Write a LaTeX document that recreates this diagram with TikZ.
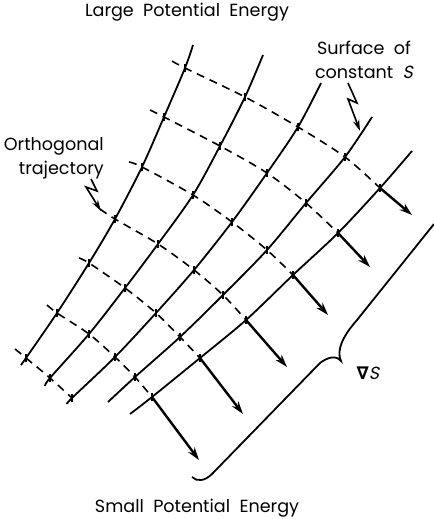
\documentclass[tikz,border=0pt]{standalone}
\usepackage{fontspec}
\setmainfont[WordSpace=2]{Poppins}
\newfontfamily\slantfont[FakeSlant=0.2]{Poppins}
\newfontfamily\symfont{DejaVu Sans}
\usetikzlibrary{arrows.meta,calc}

\begin{document}
\begin{tikzpicture}[
  x=0.25mm, y=-0.25mm,
  every node/.style={font=\fontsize{12.5}{15}\selectfont, align=center, inner sep=0pt},
  surface/.style={line width=0.45mm},
  traj/.style={line width=0.4mm, dash pattern=on 2mm off 1.5mm},
  crosstick/.style={line width=0.45mm},
  gradarrow/.style={line width=0.6mm, -{Stealth[length=3.2mm,width=2mm]}},
  pointer/.style={line width=0.4mm, -{Stealth[length=2.8mm,width=1.6mm]}}
]
\useasboundingbox (0,0) rectangle (434,519);

% orthogonal trajectories: start (0), crossings (1..5), arrow end (6)
\coordinate (t1-0) at (172,61);  \coordinate (t1-1) at (185,68);  \coordinate (t1-2) at (245,97);
\coordinate (t1-3) at (298,127); \coordinate (t1-4) at (345,157); \coordinate (t1-5) at (380,188);
\coordinate (t1-6) at (412,215);
\coordinate (t2-0) at (150,110); \coordinate (t2-1) at (164,117); \coordinate (t2-2) at (220,146);
\coordinate (t2-3) at (267,173); \coordinate (t2-4) at (306,203); \coordinate (t2-5) at (338,233);
\coordinate (t2-6) at (370,267);
\coordinate (t3-0) at (129,162); \coordinate (t3-1) at (142,167); \coordinate (t3-2) at (193,195);
\coordinate (t3-3) at (232,222); \coordinate (t3-4) at (267,250); \coordinate (t3-5) at (293,275);
\coordinate (t3-6) at (328,315);
\coordinate (t4-0) at (100,209); \coordinate (t4-1) at (115,219); \coordinate (t4-2) at (158,244);
\coordinate (t4-3) at (194,270); \coordinate (t4-4) at (223,295); \coordinate (t4-5) at (246,320);
\coordinate (t4-6) at (287,367);
\coordinate (t5-0) at (79,258);  \coordinate (t5-1) at (89,263);  \coordinate (t5-2) at (125,288);
\coordinate (t5-3) at (156,313); \coordinate (t5-4) at (180,337); \coordinate (t5-5) at (200,358);
\coordinate (t5-6) at (243,414);
\coordinate (t6-0) at (47,305);  \coordinate (t6-1) at (57,313);  \coordinate (t6-2) at (89,334);
\coordinate (t6-3) at (115,357); \coordinate (t6-4) at (135,377); \coordinate (t6-5) at (152,397);
\coordinate (t6-6) at (199,460);
\coordinate (t7-0) at (15,349);  \coordinate (t7-1) at (26,358);  \coordinate (t7-2) at (50,378);
\coordinate (t7-3) at (72,398);

% ends of the surfaces of constant S
\coordinate (s1-top) at (193,45);  \coordinate (s1-bot) at (21,365);
\coordinate (s2-top) at (263,55);  \coordinate (s2-bot) at (45,386);
\coordinate (s3-top) at (321,83);  \coordinate (s3-bot) at (67,404);
\coordinate (s4-top) at (372,117); \coordinate (s4-bot) at (108,402);
\coordinate (s5-top) at (412,151); \coordinate (s5-bot) at (130,414);

% surfaces
\draw[surface] plot[smooth] coordinates {(s1-top) (t1-1) (t2-1) (t3-1) (t4-1) (t5-1) (t6-1) (t7-1) (s1-bot)};
\draw[surface] plot[smooth] coordinates {(s2-top) (t1-2) (t2-2) (t3-2) (t4-2) (t5-2) (t6-2) (t7-2) (s2-bot)};
\draw[surface] plot[smooth] coordinates {(s3-top) (t1-3) (t2-3) (t3-3) (t4-3) (t5-3) (t6-3) (t7-3) (s3-bot)};
\draw[surface] plot[smooth] coordinates {(s4-top) (t1-4) (t2-4) (t3-4) (t4-4) (t5-4) (t6-4) (s4-bot)};
\draw[surface] plot[smooth] coordinates {(s5-top) (t1-5) (t2-5) (t3-5) (t4-5) (t5-5) (t6-5) (s5-bot)};

% trajectories, dashed
\draw[traj] plot[smooth] coordinates {(t1-0) (t1-1) (t1-2) (t1-3) (t1-4) (t1-5)};
\draw[traj] plot[smooth] coordinates {(t2-0) (t2-1) (t2-2) (t2-3) (t2-4) (t2-5)};
\draw[traj] plot[smooth] coordinates {(t3-0) (t3-1) (t3-2) (t3-3) (t3-4) (t3-5)};
\draw[traj] plot[smooth] coordinates {(t4-0) (t4-1) (t4-2) (t4-3) (t4-4) (t4-5)};
\draw[traj] plot[smooth] coordinates {(t5-0) (t5-1) (t5-2) (t5-3) (t5-4) (t5-5)};
\draw[traj] plot[smooth] coordinates {(t6-0) (t6-1) (t6-2) (t6-3) (t6-4) (t6-5)};
\draw[traj] plot[smooth] coordinates {(t7-0) (t7-1) (t7-2) (t7-3)};

% crossing ticks
\foreach \i/\n in {1/5,2/5,3/5,4/5,5/5,6/5,7/3}
  \foreach \j [evaluate=\j as \p using int(\j-1)] in {1,...,\n}
    \draw[crosstick] ($(t\i-\j)!-1.1mm!(t\i-\p)$) -- ($(t\i-\j)!1.1mm!(t\i-\p)$);

% gradient arrows
\draw[gradarrow] (t1-5) -- (t1-6);
\draw[gradarrow] (t2-5) -- (t2-6);
\draw[gradarrow] (t3-5) -- (t3-6);
\draw[gradarrow] (t4-5) -- (t4-6);
\draw[gradarrow] (t5-5) -- (t5-6);
\draw[gradarrow] (t6-5) -- (t6-6);

% brace
\coordinate (brace-top) at (434,224);
\coordinate (brace-up) at (357,320);
\coordinate (brace-tip) at (341,361);
\coordinate (brace-low) at (320,363);
\coordinate (brace-bot) at (212,474);
\coordinate (brace-end) at (192,477);
\draw[surface] (brace-top) -- (brace-up)
  .. controls (343,336) and (336,350) .. (brace-tip)
  .. controls (336,355) and (328,357) .. (brace-low) -- (brace-bot)
  .. controls (205,481) and (197,482) .. (brace-end);

% labels
\node (large) at (187,12) {Large Potential Energy};
\node (small) at (197,508) {Small Potential Energy};
\node (surflabel) at (364,60) {Surface of\\[2pt]constant {\slantfont S}};
\node[anchor=east, align=right] (orthlabel) at (104,158) {Orthogonal\\[2pt]trajectory};
\node (gradlabel) at (368,373) {{\symfont\bfseries ∇}{\slantfont S}};

% pointers
\coordinate (zs-a) at (348,83);  \coordinate (zs-b) at (357,103);
\coordinate (zs-c) at (348,99);  \coordinate (zs-d) at (360,131);
\draw[pointer] (zs-a) -- (zs-b) -- (zs-c) -- (zs-d);
\coordinate (zo-a) at (91,179);  \coordinate (zo-b) at (97,191);
\coordinate (zo-c) at (86,187);  \coordinate (zo-d) at (101,211);
\draw[pointer] (zo-a) -- (zo-b) -- (zo-c) -- (zo-d);
\end{tikzpicture}
\end{document}
